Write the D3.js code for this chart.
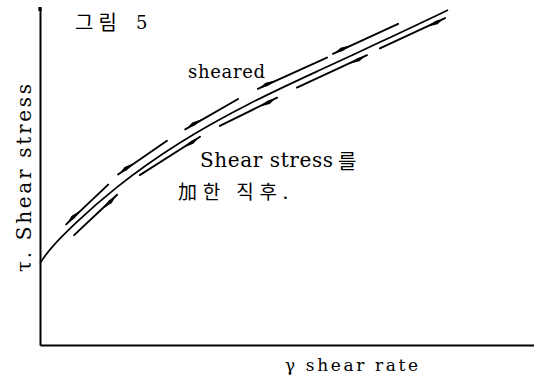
<!DOCTYPE html>
<html>
<head>
<meta charset="utf-8">
<script src="https://cdn.jsdelivr.net/npm/d3@7"></script>
<style>
  html, body { margin: 0; padding: 0; background: #fff; }
  svg { display: block; }
</style>
</head>
<body>
<div id="chart"></div>
<script>
// ---- data (arbitrary units 0..100) ----
const solidX = [0, 2.0, 6.7, 14.8, 27.7, 42.5, 56.7, 68.8, 82.6];
const solidY = [24.3, 28.6, 35.6, 46.4, 60.0, 72.0, 81.6, 89.8, 99.4];

// "sheared" curve (upper, dashed, arrows pointing back down): [x0, y0, x1, y1]
const upperDashes = [
  [5.3, 35.8, 13.8, 47.6],
  [15.8, 50.6, 25.7, 60.6],
  [29.4, 64.0, 40.1, 73.0],
  [44.1, 76.0, 58.1, 85.3],
  [59.3, 86.4, 72.5, 95.3]
];
// "Shear stress를 加한 직후" curve (lower, dashed, arrows pointing up)
const lowerDashes = [
  [6.9, 32.6, 15.6, 44.6],
  [20.2, 50.4, 32.4, 61.8],
  [36.4, 65.0, 48.0, 73.4],
  [52.0, 76.4, 66.2, 86.0],
  [68.8, 88.0, 82.0, 97.0]
];

const title = ["그림", "5"];
const xLabel = "γ  shear rate";
const yLabel = "τ.  Shear stress";
const labelSheared = "sheared";
const labelAfter1 = ["Shear stress", "를"];
const labelAfter2 = "加한 직후.";

// ---- drawing ----
const W = 534, H = 381;
const svg = d3.select("#chart").append("svg").attr("width", W).attr("height", H);

const x = d3.scaleLinear().domain([0, 100]).range([40, 534]);
const y = d3.scaleLinear().domain([0, 100]).range([345, 8]);

// axes (no ticks)
const xAxis = d3.axisBottom(x).tickValues([]).tickSizeOuter(0);
const yAxis = d3.axisLeft(y).tickValues([]).tickSizeOuter(0);
svg.append("g").attr("transform", `translate(0,${y(0)})`).call(xAxis)
  .select(".domain").attr("stroke", "#000").attr("stroke-width", 2.2);
svg.append("g").attr("transform", `translate(${x(0)},0)`).call(yAxis)
  .select(".domain").attr("stroke", "#000").attr("stroke-width", 2);
svg.append("rect").attr("x", x(0) - 1.6).attr("y", y(100) - 1).attr("width", 3.2).attr("height", 4).attr("fill", "#000");

// solid curve
const pts = solidX.map((v, i) => [v, solidY[i]]);
const line = d3.line().x(d => x(d[0])).y(d => y(d[1])).curve(d3.curveBasis);
svg.append("path").attr("d", line(pts)).attr("fill", "none")
  .attr("stroke", "#000").attr("stroke-width", 1.7);

// dashes
function drawDashes(dashes, arrowAtStart) {
  const g = svg.append("g");
  dashes.forEach(d => {
    const x0 = x(d[0]), y0 = y(d[1]), x1 = x(d[2]), y1 = y(d[3]);
    g.append("line").attr("x1", x0).attr("y1", y0).attr("x2", x1).attr("y2", y1)
      .attr("stroke", "#000").attr("stroke-width", 1.9).attr("stroke-linecap", "round");
    let tx, ty, bx, by;
    if (arrowAtStart) { tx = x0; ty = y0; bx = x1; by = y1; }
    else { tx = x1; ty = y1; bx = x0; by = y0; }
    const len = Math.hypot(tx - bx, ty - by);
    const ux = (tx - bx) / len, uy = (ty - by) / len;
    const nx = -uy, ny = ux;
    const T = [tx - ux * 1.5, ty - uy * 1.5];
    const p = [
      T,
      [T[0] - ux * 8 + nx * 2.4, T[1] - uy * 8 + ny * 2.4],
      [T[0] - ux * 20, T[1] - uy * 20],
      [T[0] - ux * 8 - nx * 1.4, T[1] - uy * 8 - ny * 1.4]
    ];
    g.append("path").attr("d", "M" + p.map(q => q.join(",")).join("L") + "Z").attr("fill", "#000");
  });
}
drawDashes(upperDashes, true);
drawDashes(lowerDashes, false);

// texts
const serif = "'DejaVu Serif', 'Liberation Serif', serif";
const kr = "'Noto Sans CJK KR', sans-serif";

svg.append("text").attr("x", 75).attr("y", 30).attr("font-family", kr).attr("font-size", 20)
  .attr("textLength", 42).attr("lengthAdjust", "spacing").text(title[0]);
svg.append("text").attr("x", 136).attr("y", 29).attr("font-family", serif).attr("font-size", 18)
  .text(title[1]);

svg.append("text").attr("x", 188).attr("y", 78).attr("font-family", serif).attr("font-size", 18)
  .attr("textLength", 77).attr("lengthAdjust", "spacing").text(labelSheared);

svg.append("text").attr("x", 200).attr("y", 167).attr("font-family", serif).attr("font-size", 20)
  .attr("textLength", 133).attr("lengthAdjust", "spacing").text(labelAfter1[0]);
svg.append("text").attr("x", 338).attr("y", 169).attr("font-family", kr).attr("font-size", 20)
  .text(labelAfter1[1]);
svg.append("text").attr("x", 178).attr("y", 199).attr("font-family", kr).attr("font-size", 19)
  .attr("textLength", 110).attr("lengthAdjust", "spacing").text(labelAfter2);

svg.append("text").attr("x", 285).attr("y", 371).attr("font-family", serif).attr("font-size", 17)
  .attr("textLength", 133).attr("lengthAdjust", "spacing").text(xLabel);

svg.append("text").attr("transform", "translate(31,272) rotate(-90)")
  .attr("font-family", serif).attr("font-size", 20)
  .attr("textLength", 188).attr("lengthAdjust", "spacing").text(yLabel);
</script>
</body>
</html>
